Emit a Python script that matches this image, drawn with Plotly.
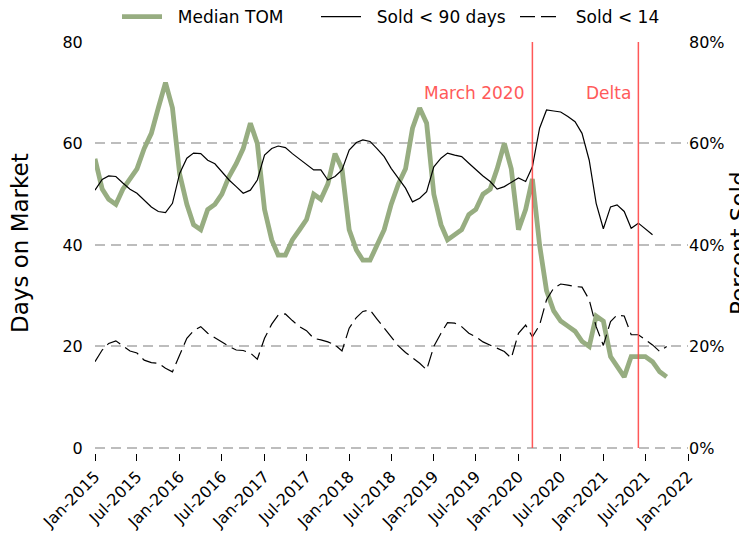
import pandas as pd
import plotly.graph_objects as go

months = [d.strftime("%Y-%m-%d") for d in pd.date_range("2015-01-01", periods=82, freq="MS")]

median_tom = [57, 51, 49, 48, 51, 53, 55, 59, 62, 67, 72, 67,
              54, 48, 44, 43, 47, 48, 50, 53.5, 56, 59, 64, 60,
              47, 41, 38, 38, 41, 43, 45, 50, 49, 52, 58, 55,
              43, 39, 37, 37, 40, 43, 48, 52, 55, 63, 67, 64,
              50, 44, 41, 42, 43, 46, 47, 50, 51, 55, 60, 55,
              43, 47, 53, 40, 31, 27, 25, 24, 23, 21, 20, 26,
              25, 18, 16, 14, 18, 18, 18, 17, 15, 14]

sold_90 = [50.8, 52.9, 53.6, 53.5, 52.2, 51, 50.2, 48.9, 47.5, 46.6, 46.4, 48.2,
           54.1, 57.1, 58.1, 58, 56.7, 56, 54.4, 52.8, 51.5, 50.2, 50.8, 52.8,
           57.7, 59, 59.5, 59.2, 58, 56.9, 55.8, 54.8, 54.8, 52.8, 53.5, 54.8,
           58.7, 60.2, 60.7, 60.4, 59, 57.4, 55.1, 53.1, 51.2, 48.5, 49.2, 50.5,
           55.4, 57.1, 58.1, 57.7, 57.4, 56.1, 54.8, 53.6, 52.5, 51, 51.5, 52.3,
           53.2, 52.5, 55.4, 63, 66.6, 66.4, 66.2, 65.3, 64.3, 62, 56.7, 48.2,
           43.2, 47.5, 47.9, 46.6, 43.3, 44.3, 43.1, 42, None, None]

sold_14 = [17, 19.3, 20.6, 21.1, 20.1, 19.1, 18.7, 17.3, 16.8, 16.7, 15.7, 15,
           18.3, 21.6, 23.1, 23.9, 22.6, 21.7, 20.9, 20, 19.3, 19.2, 18.7, 17.5,
           21.6, 24.4, 26.2, 26.4, 25.1, 23.9, 23.1, 21.6, 21.3, 20.9, 20.3, 19.1,
           23.6, 25.7, 26.9, 27.2, 25.4, 23.6, 21.9, 20.1, 18.8, 17.7, 16.7, 15.4,
           20, 22.6, 24.7, 24.6, 23.9, 22.6, 21.9, 20.9, 20.3, 19.6, 19, 17.7,
           22.6, 24.2, 21.9, 24.2, 29.2, 31.5, 32.3, 32.1, 31.8, 31.7, 29.2, 23.9,
           20.2, 24.9, 26.2, 26, 22.3, 22.3, 21.3, 20.3, 19, 20]

tick_dates = [f"{y}-{m:02d}-01" for y in range(2015, 2022) for m in (1, 7)] + ["2022-01-01"]
tick_text = [pd.Timestamp(d).strftime("%b-%Y") for d in tick_dates]
y_ticks = [0, 20, 40, 60, 80]
y2_text = [f"{v}%" for v in y_ticks]

events = ["2020-03-01", "2021-06-01"]
event_labels = ["March 2020", "Delta"]

FONT = "DejaVu Sans"
GREEN = "#97ad81"
RED = "rgba(255,70,70,0.9)"
OFF = 8  # page body margin
W, H = 747 - OFF, 538 - OFF
L, R, T, B = 95 - OFF, 59, 42 - OFF, 85
pw, ph = W - L - R, H - T - B
PAD = "\u00a0\u00a0"

fig = go.Figure()
fig.add_trace(go.Scatter(x=months, y=median_tom, name=PAD + "Median TOM", mode="lines",
                         line=dict(color=GREEN, width=4.8), yaxis="y"))
fig.add_trace(go.Scatter(x=months, y=sold_90, name=PAD + "Sold < 90 days", mode="lines",
                         line=dict(color="black", width=1.2), yaxis="y2"))
fig.add_trace(go.Scatter(x=months, y=sold_14, name=PAD + "Sold < 14", mode="lines",
                         line=dict(color="black", width=1.2, dash="15px,6px"), yaxis="y2"))

for d, lab in zip(events, event_labels):
    fig.add_shape(type="line", xref="x", yref="y", x0=d, x1=d, y0=0, y1=80,
                  line=dict(color=RED, width=1.5))
    fig.add_annotation(x=d, y=70, xref="x", yref="y", text=lab, showarrow=False,
                       xanchor="right", xshift=-5, yanchor="middle",
                       font=dict(family=FONT, size=17, color="#ff5a5a"))

title_y = (H - B - (243 - OFF)) / ph
fig.add_annotation(x=(20 - OFF - L) / pw, y=title_y, xref="paper", yref="paper",
                   xanchor="center", yanchor="middle",
                   text="Days on Market", showarrow=False, textangle=-90,
                   font=dict(family=FONT, size=23, color="black"))
fig.add_annotation(x=(739 - OFF - L) / pw, y=title_y, xref="paper", yref="paper",
                   xanchor="center", yanchor="middle",
                   text="Percent Sold", showarrow=False, textangle=-90,
                   font=dict(family=FONT, size=23, color="black"))

fig.update_layout(
    width=W, height=H,
    margin=dict(l=L, r=R, t=T, b=B, autoexpand=False),
    paper_bgcolor="white", plot_bgcolor="white",
    font=dict(family=FONT, size=16, color="black"),
    showlegend=True,
    legend=dict(orientation="h", xref="container", yref="container", x=(117 - OFF) / W, y=1 - (17 - OFF) / H,
                xanchor="left", yanchor="middle", font=dict(family=FONT, size=17),
                bgcolor="rgba(0,0,0,0)", itemwidth=40, entrywidth=144, entrywidthmode="pixels"),
    xaxis=dict(type="date", range=["2015-01-01", "2022-01-01"], tickvals=tick_dates, ticktext=tick_text,
               tickangle=-45, ticks="outside", ticklen=7, tickwidth=1.2, tickcolor="black",
               showgrid=False, zeroline=False, showline=False, automargin=False,
               tickfont=dict(family=FONT, size=16)),
    yaxis=dict(range=[-1, 80], tickvals=y_ticks, showgrid=True, gridcolor="#bdbdbd",
               gridwidth=1.5, griddash="10px,6px", zeroline=False, showline=False, automargin=False,
               ticks="outside", ticklen=8, tickcolor="rgba(0,0,0,0)", tickfont=dict(family=FONT, size=16)),
    yaxis2=dict(range=[-1, 80], overlaying="y", side="right", tickvals=y_ticks, ticktext=y2_text,
                showgrid=False, zeroline=False, showline=False, automargin=False,
                ticks="", tickfont=dict(family=FONT, size=16)),
)

fig.write_html("out.html")
